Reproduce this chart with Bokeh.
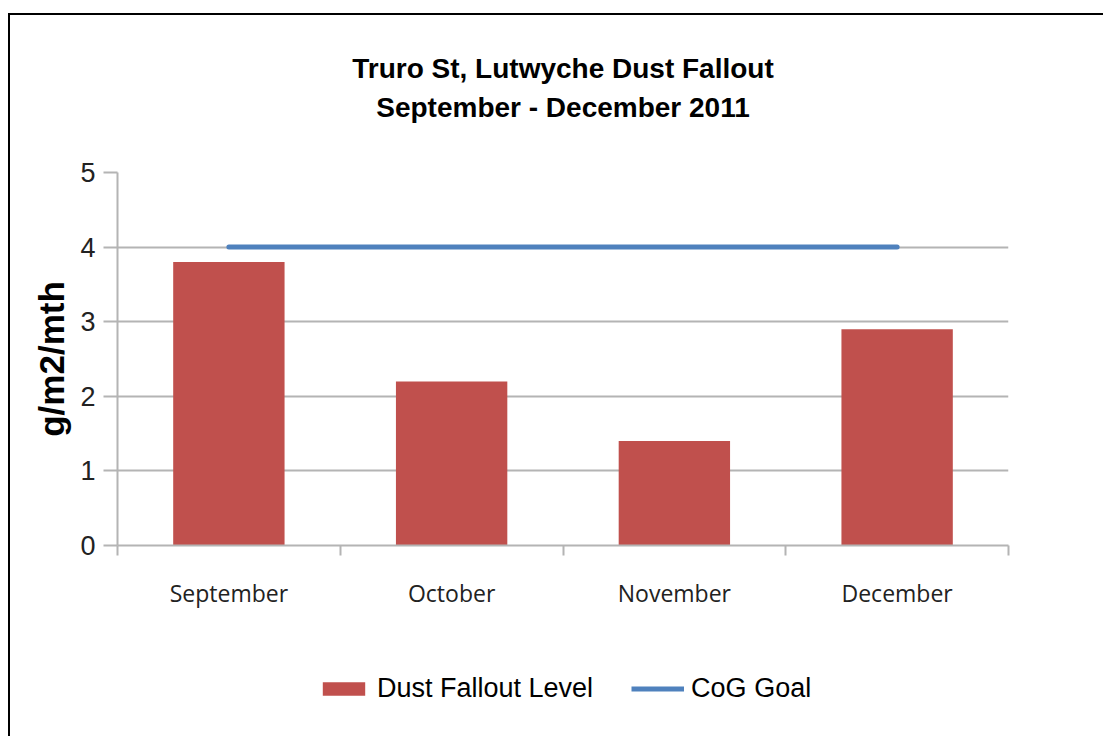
from bokeh.plotting import figure
from bokeh.layouts import column
from bokeh.models import (Range1d, FixedTicker, Legend, LegendItem, Title,
                          ColumnDataSource)
from bokeh.embed import file_html
from bokeh.resources import INLINE

# ---- data ----
months = ["September", "October", "November", "December"]
dust_fallout = [3.8, 2.2, 1.4, 2.9]
cog_goal = [4, 4, 4, 4]
y_ticks = [0, 1, 2, 3, 4, 5]
title_line1 = "Truro St, Lutwyche Dust Fallout"
title_line2 = "September - December 2011"
y_label = "g/m2/mth"
series_names = ["Dust Fallout Level", "CoG Goal"]

xpos = [i + 0.5 for i in range(len(months))]
src = ColumnDataSource(dict(x=xpos, dust=dust_fallout, goal=cog_goal, month=months))

SANS = "Liberation Sans"
GRID = "#b4b4b4"
BAR_COLOR = "#C0504D"
LINE_COLOR = "#4F81BD"

p = figure(frame_width=891, frame_height=373, output_backend="svg",
           toolbar_location=None,
           x_range=Range1d(0, len(months)), y_range=Range1d(0, 5),
           min_border_left=107, min_border_right=100,
           min_border_top=157, min_border_bottom=80)
p.outline_line_color = None
p.background_fill_color = "white"
p.border_fill_color = "white"

bars = p.vbar(x="x", top="dust", width=0.5, source=src,
              fill_color=BAR_COLOR, line_color=None)
goal_line = p.line(x="x", y="goal", source=src, line_width=5,
                   line_color=LINE_COLOR, line_cap="round")

# titles (added nearest-first)
spacer = Title(text=" ", text_font_size="1px", standoff=45)
t2 = Title(text=title_line2, align="center", text_font=SANS,
           text_font_size="28px", text_font_style="bold", text_color="black",
           standoff=4)
t1 = Title(text=title_line1, align="center", text_font=SANS,
           text_font_size="28px", text_font_style="bold", text_color="black",
           standoff=8)
p.add_layout(spacer, "above")
p.add_layout(t2, "above")
p.add_layout(t1, "above")

# x axis
xa = p.xaxis[0]
xa.ticker = FixedTicker(ticks=xpos, minor_ticks=list(range(len(months) + 1)))
xa.major_label_overrides = {x: m for x, m in zip(xpos, months)}
xa.major_tick_line_color = None
xa.major_tick_out = 0
xa.major_tick_in = 0
xa.minor_tick_line_color = GRID
xa.minor_tick_line_width = 2
xa.minor_tick_out = 10
xa.minor_tick_in = 0
xa.axis_line_color = GRID
xa.axis_line_width = 2
xa.major_label_text_font = "Open Sans"
xa.major_label_text_font_size = "23px"
xa.major_label_text_color = "#222222"
xa.major_label_standoff = 21

# y axis
ya = p.yaxis[0]
ya.ticker = FixedTicker(ticks=y_ticks, minor_ticks=[])
ya.major_tick_line_color = GRID
ya.major_tick_line_width = 2
ya.major_tick_out = 14
ya.major_tick_in = 0
ya.axis_line_color = GRID
ya.axis_line_width = 2
ya.major_label_text_font = SANS
ya.major_label_text_font_size = "27px"
ya.major_label_text_color = "#222222"
ya.major_label_standoff = 8
ya.axis_label = y_label
ya.axis_label_text_font = SANS
ya.axis_label_text_font_style = "bold"
ya.axis_label_text_font_size = "35px"
ya.axis_label_text_color = "black"
ya.axis_label_standoff = 6

p.xgrid.grid_line_color = None
p.ygrid.grid_line_color = GRID
p.ygrid.grid_line_width = 2
p.ygrid.ticker = FixedTicker(ticks=y_ticks)

# ---- legend strip (separate figure under the chart) ----
pl = figure(width=1098, height=111, output_backend="svg", toolbar_location=None,
            x_range=Range1d(0, 1), y_range=Range1d(0, 1),
            x_axis_location=None, y_axis_location=None,
            min_border_left=0, min_border_right=0,
            min_border_top=0, min_border_bottom=0)
pl.outline_line_color = None
pl.xgrid.visible = False
pl.ygrid.visible = False
pl.border_fill_color = "white"
lg_bars = pl.vbar(x="x", top="dust", width=0.5, source=src,
                  fill_color=BAR_COLOR, line_color=None, visible=False)
lg_line = pl.line(x="x", y="goal", source=src, line_width=5,
                  line_color=LINE_COLOR, visible=False)

legend = Legend(items=[LegendItem(label=series_names[0], renderers=[lg_bars]),
                       LegendItem(label=series_names[1], renderers=[lg_line])],
                orientation="horizontal", location=(200, 32),
                click_policy="none", inactive_fill_alpha=0,
                glyph_width=53, glyph_height=17, label_standoff=7, spacing=38,
                label_text_font=SANS, label_text_font_size="27px",
                label_text_color="black", border_line_color=None,
                background_fill_alpha=0, margin=0, padding=0)
pl.add_layout(legend, "center")

layout = column(p, pl, spacing=0)
layout.margin = (13, 0, 0, 8)
layout.styles = {"border-top": "2px solid black", "border-left": "2px solid black"}

open("out.html", "w").write(file_html(layout, INLINE))
